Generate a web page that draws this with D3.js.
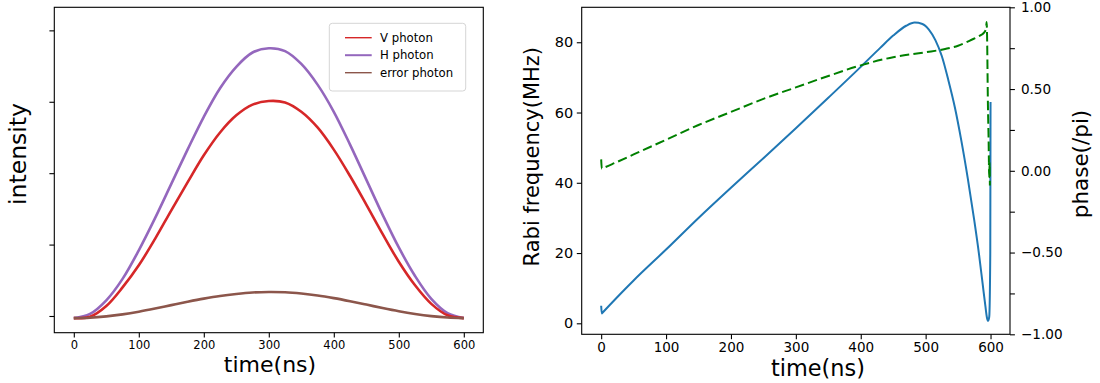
<!DOCTYPE html>
<html><head><meta charset="utf-8">
<script src="https://cdn.jsdelivr.net/npm/d3@7"></script>
<style>
body{margin:0;background:#fff;}
text{font-family:"DejaVu Sans",sans-serif;fill:#000;}
</style></head>
<body><svg id="c" width="1100" height="383"></svg>
<script>
// ---------- data (left panel) ----------
const timeL = [0,25,50,75,100,125,150,175,200,225,250,275,300,325,350,375,400,425,450,475,500,525,550,575,600];
const hPhoton = [-0.03,0.03,0.22,0.52,0.92,1.37,1.85,2.33,2.79,3.19,3.49,3.69,3.75,3.71,3.53,3.24,2.86,2.40,1.91,1.42,0.96,0.56,0.24,0.04,-0.03];
const vPhoton = [-0.03,-0.01,0.14,0.40,0.71,1.08,1.48,1.87,2.25,2.57,2.81,2.96,3.01,2.99,2.86,2.64,2.33,1.96,1.56,1.15,0.76,0.43,0.17,0.01,-0.03];
const errPhoton = [-0.03,-0.024,-0.005,0.023,0.06,0.104,0.152,0.199,0.243,0.281,0.309,0.329,0.336,0.332,0.314,0.287,0.25,0.207,0.16,0.111,0.066,0.028,-0.002,-0.022,-0.03];
const xTicksL = [0,100,200,300,400,500,600];
const yTicksL = [0,1,2,3,4];
const legendLabels = ["V photon","H photon","error photon"];

// ---------- data (right panel) ----------
const timeR = [0,1,2,25,50,100,150,200,250,300,350,400,430,450,470,483,495,505,515,525,535,545,555,565,575,582,588,592,594.5,596.3,598,599.6,600];
const rabi  = [5.0,2.8,3.0,7.5,12.2,21.0,30.0,38.6,47.0,55.5,64.2,73.0,78.4,81.9,84.7,85.6,85.2,83.6,80.6,76.0,69.2,61.5,52.0,41.2,29.2,20.0,11.0,5.0,1.6,0.7,1.8,20,63];
const timeP = [0,1,2,25,50,100,150,200,250,300,350,400,450,500,530,550,570,585,590,593,594,594.6,596,597,598,598.6,599];
const phase = [0.07,0.012,0.014,0.055,0.10,0.19,0.28,0.36,0.44,0.51,0.58,0.645,0.695,0.725,0.745,0.765,0.80,0.83,0.845,0.87,0.91,0.84,0.40,0.20,-0.04,0.05,-0.09];
const xTicksR = [0,100,200,300,400,500,600];
const yTicksR = [0,20,40,60,80];
const yTicksPhase = [-1,-0.75,-0.5,-0.25,0,0.25,0.5,0.75,1];
const phaseLabels = [-1,-0.5,0,0.5,1];

const svg = d3.select("#c");
svg.append("rect").attr("width",1100).attr("height",383).attr("fill","#fff");

function fmtMinus(s){return s.replace("-","\u2212");}

// ================= LEFT =================
const L = {x0:54.3,x1:483.3,y0:7.3,y1:332.7};
const xL = d3.scaleLinear().domain([-30,630]).range([L.x0,L.x1]);
const yL = d3.scaleLinear().domain([-0.234,4.323]).range([L.y1,L.y0]);
const gL = svg.append("g");
const axL = gL.append("g").attr("transform",`translate(0,${L.y1})`)
  .call(d3.axisBottom(xL).tickValues(xTicksL).tickSize(4.9).tickPadding(3.5));
axL.selectAll("text").style("font-size","11.5px").style("font-family","DejaVu Sans");
const ayL = gL.append("g").attr("transform",`translate(${L.x0},0)`)
  .call(d3.axisLeft(yL).tickValues(yTicksL).tickSize(4.9).tickFormat(""));
[axL,ayL].forEach(a=>{a.select(".domain").remove(); a.selectAll("line").attr("stroke","#000").attr("stroke-width",1.1);});
gL.append("rect").attr("x",L.x0).attr("y",L.y0).attr("width",L.x1-L.x0).attr("height",L.y1-L.y0)
  .attr("fill","none").attr("stroke","#000").attr("stroke-width",1.1);
const lineL = d3.line().curve(d3.curveCatmullRom.alpha(0.5));
const seriesL = [
  {vals:hPhoton,color:"#9467bd"},
  {vals:vPhoton,color:"#d62728"},
  {vals:errPhoton,color:"#8c564b"}
];
seriesL.forEach(s=>{
  gL.append("path").attr("d",lineL(timeL.map((t,i)=>[xL(t),yL(s.vals[i])])))
    .attr("fill","none").attr("stroke",s.color).attr("stroke-width",2.6);
});
// legend
const lg = gL.append("g");
lg.append("rect").attr("x",329.3).attr("y",23.3).attr("width",136.4).attr("height",67.7).attr("rx",3)
  .attr("fill","#fff").attr("fill-opacity",0.8).attr("stroke","#d5d5d5").attr("stroke-width",1);
const legColors = ["#d62728","#9467bd","#8c564b"];
legendLabels.forEach((lab,i)=>{
  const yy = 37.7 + i*17.5;
  lg.append("line").attr("x1",345).attr("x2",371.7).attr("y1",yy).attr("y2",yy)
    .attr("stroke",legColors[i]).attr("stroke-width",i===1?2:1.4);
  lg.append("text").attr("x",380).attr("y",yy+4.2).style("font-size","11.7px").text(lab);
});
gL.append("text").attr("x",270).attr("y",372).attr("text-anchor","middle").style("font-size","22px").text("time(ns)");
gL.append("text").attr("transform","translate(25.5,154) rotate(-90)").attr("text-anchor","middle").style("font-size","23.5px").text("intensity");

// ================= RIGHT =================
const R = {x0:581.7,x1:1010,y0:7.3,y1:334.3};
const xR = d3.scaleLinear().domain([-30,630]).range([R.x0,R.x1]);
const yR = d3.scaleLinear().domain([-3.13,89.95]).range([R.y1,R.y0]);
const yP = d3.scaleLinear().domain([-1,1]).range([R.y1,R.y0]);
const gR = svg.append("g");
const axR = gR.append("g").attr("transform",`translate(0,${R.y1})`)
  .call(d3.axisBottom(xR).tickValues(xTicksR).tickSize(4.9).tickPadding(3.5));
axR.selectAll("text").style("font-size","13.5px");
const ayR = gR.append("g").attr("transform",`translate(${R.x0},0)`)
  .call(d3.axisLeft(yR).tickValues(yTicksR).tickSize(4.9).tickPadding(3.5));
ayR.selectAll("text").style("font-size","14.5px");
const apR = gR.append("g").attr("transform",`translate(${R.x1},0)`)
  .call(d3.axisRight(yP).tickValues(yTicksPhase).tickSize(4.9).tickPadding(6)
    .tickFormat(d=> phaseLabels.includes(d) ? fmtMinus(d3.format(".2f")(d)) : ""));
apR.selectAll("text").style("font-size","13.6px");
[axR,ayR,apR].forEach(a=>{a.select(".domain").remove(); a.selectAll("line").attr("stroke","#000").attr("stroke-width",1.1); a.selectAll("text").style("font-family","DejaVu Sans");});
gR.append("rect").attr("x",R.x0).attr("y",R.y0).attr("width",R.x1-R.x0).attr("height",R.y1-R.y0)
  .attr("fill","none").attr("stroke","#000").attr("stroke-width",1.1);
const lineR = d3.line().curve(d3.curveMonotoneX);
gR.append("path").attr("d",lineR(timeR.map((t,i)=>[xR(t),yR(rabi[i])])))
  .attr("fill","none").attr("stroke","#1f77b4").attr("stroke-width",2);
gR.append("path").attr("d",lineR(timeP.map((t,i)=>[xR(t),yP(phase[i])])))
  .attr("fill","none").attr("stroke","#008000").attr("stroke-width",2).attr("stroke-dasharray","9.5,4.2");
gR.append("text").attr("x",818).attr("y",376).attr("text-anchor","middle").style("font-size","22.4px").text("time(ns)");
gR.append("text").attr("transform","translate(538.6,156.7) rotate(-90)").attr("text-anchor","middle").style("font-size","21px").text("Rabi frequency(MHz)");
gR.append("text").attr("transform","translate(1088,164) rotate(-90)").attr("text-anchor","middle").style("font-size","21.5px").text("phase(/pi)");
</script></body></html>
